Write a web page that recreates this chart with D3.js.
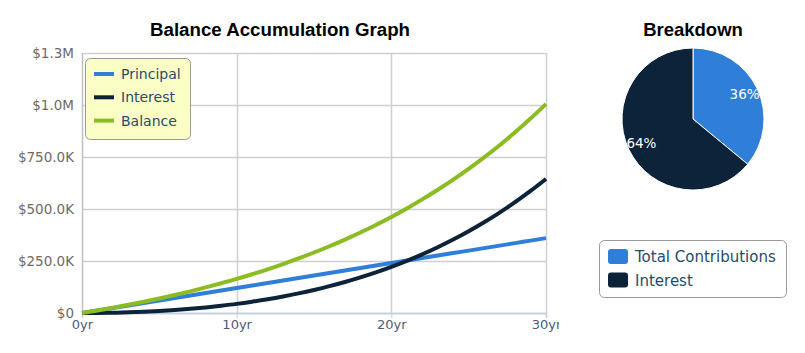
<!DOCTYPE html>
<html>
<head>
<meta charset="utf-8">
<script src="https://cdn.jsdelivr.net/npm/d3@7"></script>
<style>
  body { margin: 0; background: #fff; }
  svg { display: block; font-family: "DejaVu Sans", sans-serif; }
</style>
</head>
<body>
<svg id="chart" width="805" height="353"></svg>
<script>
// years along the x axis
var years = d3.range(0, 31);
// principal contributed by each year
var principal = [0, 12000, 24000, 36000, 48000, 60000, 72000, 84000, 96000, 108000, 120000,
  132000, 144000, 156000, 168000, 180000, 192000, 204000, 216000, 228000, 240000,
  252000, 264000, 276000, 288000, 300000, 312000, 324000, 336000, 348000, 360000];
// total balance
var balance = [0, 12300, 25400, 39300, 54100, 69800, 86500, 104200, 123000, 143000, 163900,
  186400, 210200, 235500, 262300, 290800, 321000, 353100, 387200, 423400, 462000,
  502900, 546200, 592300, 641200, 693000, 748100, 806700, 868800, 934700, 1004500];
// interest = balance - principal
var interest = [0, 300, 1400, 3300, 6100, 9800, 14500, 20200, 27000, 35000, 43900,
  54400, 66200, 79500, 94300, 110800, 129000, 149100, 171200, 195400, 222000,
  250900, 282200, 316300, 353200, 393000, 436100, 482700, 532800, 586700, 644500];

var seriesNames = ["Principal", "Interest", "Balance"];
var seriesColors = ["#2f7ed8", "#0d233a", "#8bbc21"];
var yTicks = [0, 250000, 500000, 750000, 1000000, 1250000];
var xTicks = [0, 10, 20, 30];

var pieLabels = ["Total Contributions", "Interest"];
var pieValues = [36, 64];
var pieColors = ["#2f7ed8", "#0d233a"];

var svg = d3.select("#chart");

// ---- line chart ----
var margin = {left: 82, top: 53, right: 546, bottom: 313};

svg.append("clipPath").attr("id", "leftclip")
   .append("rect").attr("x", 0).attr("y", 0).attr("width", 559).attr("height", 353);

var g = svg.append("g").attr("clip-path", "url(#leftclip)");

var x = d3.scaleLinear().domain([0, 30]).range([margin.left, margin.right]);
var y = d3.scaleLinear().domain([0, 1250000]).range([margin.bottom, margin.top]);

function money(v) {
  if (v === 0) return "$0";
  if (v >= 1e6) return "$" + (v / 1e6).toFixed(1) + "M";
  return "$" + (v / 1e3).toFixed(1) + "K";
}

g.append("text")
 .attr("x", 280).attr("y", 36)
 .attr("text-anchor", "middle")
 .style("font-family", "'Liberation Sans', Arial, sans-serif")
 .style("font-weight", "bold").style("font-size", "18.7px")
 .attr("fill", "#000")
 .text("Balance Accumulation Graph");

// horizontal grid
g.append("g").selectAll("line").data(yTicks).enter().append("line")
 .attr("x1", margin.left).attr("x2", margin.right)
 .attr("y1", function(d){ return Math.round(y(d)) + 0.5; })
 .attr("y2", function(d){ return Math.round(y(d)) + 0.5; })
 .attr("stroke", "#d0d0d0").attr("stroke-width", 1.5);

// vertical grid
g.append("g").selectAll("line").data(xTicks.slice(1)).enter().append("line")
 .attr("x1", function(d){ return Math.round(x(d)) + 0.5; })
 .attr("x2", function(d){ return Math.round(x(d)) + 0.5; })
 .attr("y1", margin.top).attr("y2", margin.bottom)
 .attr("stroke", "#d0d0d0").attr("stroke-width", 1.5);

// left axis line
g.append("line")
 .attr("x1", margin.left + 0.5).attr("x2", margin.left + 0.5)
 .attr("y1", margin.top).attr("y2", margin.bottom)
 .attr("stroke", "#c0c0c0").attr("stroke-width", 1.5);

// y labels
var yAxis = d3.axisLeft(y).tickValues(yTicks).tickFormat(money).tickSize(0).tickPadding(8);
var ya = g.append("g").attr("transform", "translate(" + margin.left + ",0)").call(yAxis);
ya.select(".domain").remove();
ya.selectAll("text")
  .style("font-size", "13.5px").attr("fill", "#6e6a66")
  .style("font-family", "'DejaVu Sans', sans-serif");

// x axis
var xAxis = d3.axisBottom(x).tickValues(xTicks).tickFormat(function(d){ return d + "yr"; })
  .tickSize(5).tickPadding(2);
var xa = g.append("g").attr("transform", "translate(0," + margin.bottom + ")").call(xAxis);
xa.select(".domain").attr("stroke", "#c0d0e0").attr("stroke-width", 1.5);
xa.selectAll(".tick line").attr("stroke", "#c0d0e0");
xa.selectAll("text")
  .style("font-size", "13px").attr("fill", "#4d5d75")
  .style("font-family", "'DejaVu Sans', sans-serif");

// lines
var seriesData = [principal, interest, balance];
var line = d3.line()
  .x(function(d, i){ return x(years[i]); })
  .y(function(d){ return y(d); })
  .curve(d3.curveMonotoneX);

g.append("g").selectAll("path").data(seriesData).enter().append("path")
 .attr("d", line)
 .attr("fill", "none")
 .attr("stroke", function(d, i){ return seriesColors[i]; })
 .attr("stroke-width", 4)
 .attr("stroke-linejoin", "round");

// legend
var lg = g.append("g");
lg.append("rect")
  .attr("x", 85.5).attr("y", 58.5).attr("width", 105).attr("height", 81)
  .attr("rx", 5).attr("fill", "#fcffc5").attr("stroke", "#999").attr("stroke-width", 1);
var items = lg.selectAll("g.item").data(seriesNames).enter().append("g")
  .attr("transform", function(d, i){ return "translate(0," + (74 + i * 23.3) + ")"; });
items.append("line").attr("x1", 94).attr("x2", 114).attr("y1", 0).attr("y2", 0)
  .attr("stroke", function(d, i){ return seriesColors[i]; }).attr("stroke-width", 4);
items.append("text").attr("x", 121).attr("y", 5)
  .style("font-size", "14px").attr("fill", "#274b6d")
  .text(function(d){ return d; });

// ---- pie chart ----
var cx = 693, cy = 119, r = 71;

svg.append("text")
 .attr("x", cx).attr("y", 36)
 .attr("text-anchor", "middle")
 .style("font-family", "'Liberation Sans', Arial, sans-serif")
 .style("font-weight", "bold").style("font-size", "18.5px")
 .text("Breakdown");

var pie = d3.pie().sort(null).value(function(d){ return d; });
var arc = d3.arc().innerRadius(0).outerRadius(r);
var labelArc = d3.arc().innerRadius(57).outerRadius(57);

var pg = svg.append("g").attr("transform", "translate(" + cx + "," + cy + ")");
var arcs = pie(pieValues);
pg.selectAll("path").data(arcs).enter().append("path")
  .attr("d", arc)
  .attr("fill", function(d, i){ return pieColors[i]; })
  .attr("stroke", "#fff").attr("stroke-width", 1);
pg.selectAll("text").data(arcs).enter().append("text")
  .attr("transform", function(d){ return "translate(" + labelArc.centroid(d) + ")"; })
  .attr("dy", "0.35em")
  .attr("text-anchor", "middle")
  .style("font-size", "13.5px").attr("fill", "#fff")
  .text(function(d){ return d.data + "%"; });

// pie legend
var pl = svg.append("g");
pl.append("rect")
  .attr("x", 599.5).attr("y", 240.5).attr("width", 187).attr("height", 57)
  .attr("rx", 5).attr("fill", "#fff").attr("stroke", "#999").attr("stroke-width", 1);
var pitems = pl.selectAll("g.item").data(pieLabels).enter().append("g")
  .attr("transform", function(d, i){ return "translate(0," + (249 + i * 23.5) + ")"; });
pitems.append("rect").attr("x", 608).attr("y", 0).attr("width", 20).attr("height", 15)
  .attr("rx", 3)
  .attr("fill", function(d, i){ return pieColors[i]; });
pitems.append("text").attr("x", 635).attr("y", 13)
  .style("font-size", "15px").attr("fill", "#274b6d")
  .text(function(d){ return d; });
</script>
</body>
</html>
